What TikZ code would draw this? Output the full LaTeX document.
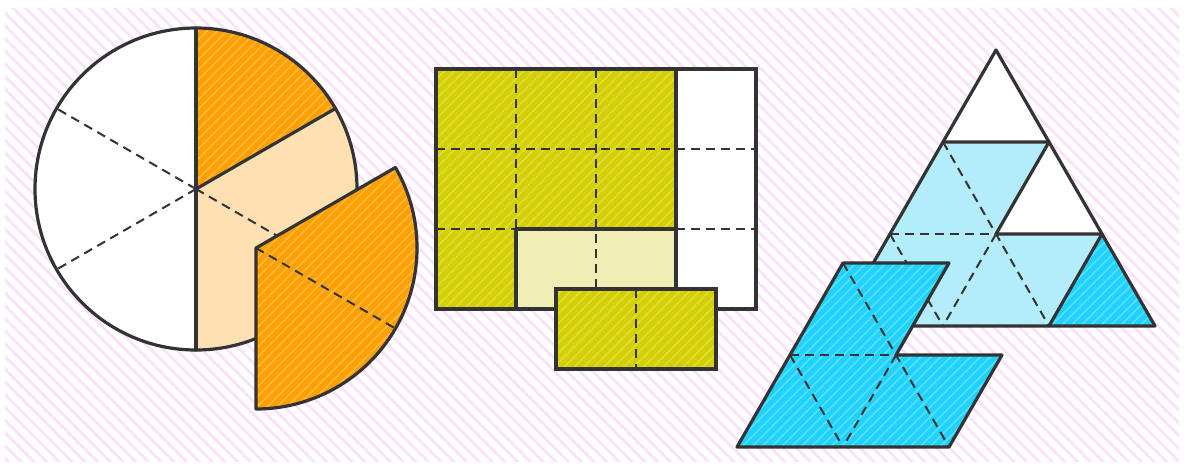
\documentclass[tikz,border=0pt]{standalone}
\usetikzlibrary{patterns.meta,calc}
\definecolor{ln}{HTML}{333333}
\definecolor{bgpink}{HTML}{FBE2FB}
\definecolor{orC}{HTML}{FFA000}
\definecolor{orH}{HTML}{FFB840}
\definecolor{peach}{HTML}{FFE0B3}
\definecolor{ygC}{HTML}{D4D000}
\definecolor{ygH}{HTML}{DEDB40}
\definecolor{lyel}{HTML}{F0EEB5}
\definecolor{bbC}{HTML}{1FD2FF}
\definecolor{bbH}{HTML}{5CDFFF}
\definecolor{lblue}{HTML}{B3ECFA}
\tikzset{
  solidline/.style={draw=ln,line width=3.2pt,line join=round,line cap=round},
  dashline/.style={draw=ln,line width=2pt,dash pattern=on 9pt off 6pt},
  hatchfill/.style={fill=#1C,postaction={pattern={Lines[angle=45,distance=7pt,line width=1.6pt]},pattern color=#1H}},
}
\begin{document}
\begin{tikzpicture}[x=1pt,y=-1pt]
\useasboundingbox (0,0) rectangle (1184,466);
\fill[white] (0,0) rectangle (1184,466);
\fill[pattern={Lines[angle=-45,distance=9pt,line width=2.8pt]},pattern color=bgpink] (5,8) rectangle (1179,461);

% ---------- circle ----------
\coordinate (C) at (196,189);
\fill[white] (C) circle[radius=161];
\fill[hatchfill=or] (C) -- ($(C)+(-90:161)$) arc[start angle=-90,end angle=-30,radius=161] -- cycle;
\fill[peach] (C) -- ($(C)+(-30:161)$) arc[start angle=-30,end angle=90,radius=161] -- cycle;
\draw[dashline] (C) -- ($(C)+(150:161)$);
\draw[dashline] (C) -- ($(C)+(210:161)$);
\draw[dashline] (C) -- ($(C)+(30:161)$);
\draw[solidline] ($(C)+(-90:161)$) -- ($(C)+(90:161)$);
\draw[solidline] (C) -- ($(C)+(-30:161)$);
\draw[solidline] (C) circle[radius=161];
% piece
\coordinate (P) at (256,248);
\path[hatchfill=or] (P) -- ($(P)+(-30:161)$) arc[start angle=-30,end angle=90,radius=161] -- cycle;
\draw[dashline] (P) -- ($(P)+(30:161)$);
\draw[solidline] (P) -- ($(P)+(-30:161)$) arc[start angle=-30,end angle=90,radius=161] -- cycle;

% ---------- rectangle ----------
\coordinate (R0) at (436,69);
\coordinate (R1) at (756,309);
\fill[white] (R0) rectangle (R1);
\fill[hatchfill=yg] (436,69) -- (676,69) -- (676,229) -- (516,229) -- (516,309) -- (436,309) -- cycle;
\fill[lyel] (516,229) rectangle (676,309);
\draw[dashline] (516,69) -- (516,229);
\draw[dashline] (596,69) -- (596,309);
\draw[dashline] (436,149) -- (756,149);
\draw[dashline] (436,229) -- (516,229);
\draw[dashline] (676,229) -- (756,229);
\draw[solidline] (676,69) -- (676,309);
\draw[solidline] (516,309) -- (516,229) -- (676,229);
\draw[solidline,line cap=butt,line join=miter] (R0) rectangle (R1);
% piece
\coordinate (S0) at (556,289);
\coordinate (S1) at (716,369);
\path[hatchfill=yg] (S0) rectangle (S1);
\draw[dashline] (636,289) -- (636,369);
\draw[solidline,line cap=butt,line join=miter] (S0) rectangle (S1);

% ---------- triangle ----------
\coordinate (T0) at (996,50);
\coordinate (T10) at (943,142);
\coordinate (T11) at (1049,142);
\coordinate (T20) at (890,234);
\coordinate (T21) at (996,234);
\coordinate (T22) at (1102,234);
\coordinate (T30) at (837,326);
\coordinate (T31) at (943,326);
\coordinate (T32) at (1049,326);
\coordinate (T33) at (1155,326);
\fill[white] (T0) -- (T30) -- (T33) -- cycle;
\fill[lblue] (T10) -- (T11) -- (T21) -- (T22) -- (T32) -- (T30) -- cycle;
\path[hatchfill=bb] (T22) -- (T32) -- (T33) -- cycle;
\draw[dashline] (T10) -- (T32);
\draw[dashline] (T20) -- (T21);
\draw[dashline] (T21) -- (T31);
\draw[dashline] (T20) -- (T31);
\draw[solidline] (T10) -- (T11) -- (T21) -- (T22) -- (T32);
\draw[solidline] (T0) -- (T30) -- (T33) -- cycle;
% piece
\begin{scope}[shift={(-100,121)}]
\coordinate (Q10) at (943,142);
\coordinate (Q11) at (1049,142);
\coordinate (Q20) at (890,234);
\coordinate (Q21) at (996,234);
\coordinate (Q22) at (1102,234);
\coordinate (Q30) at (837,326);
\coordinate (Q31) at (943,326);
\coordinate (Q32) at (1049,326);
\end{scope}
\path[hatchfill=bb] (Q10) -- (Q11) -- (Q21) -- (Q22) -- (Q32) -- (Q30) -- cycle;
\draw[dashline] (Q10) -- (Q32);
\draw[dashline] (Q20) -- (Q21);
\draw[dashline] (Q21) -- (Q31);
\draw[dashline] (Q20) -- (Q31);
\draw[solidline] (Q10) -- (Q11) -- (Q21) -- (Q22) -- (Q32) -- (Q30) -- cycle;
\end{tikzpicture}
\end{document}
